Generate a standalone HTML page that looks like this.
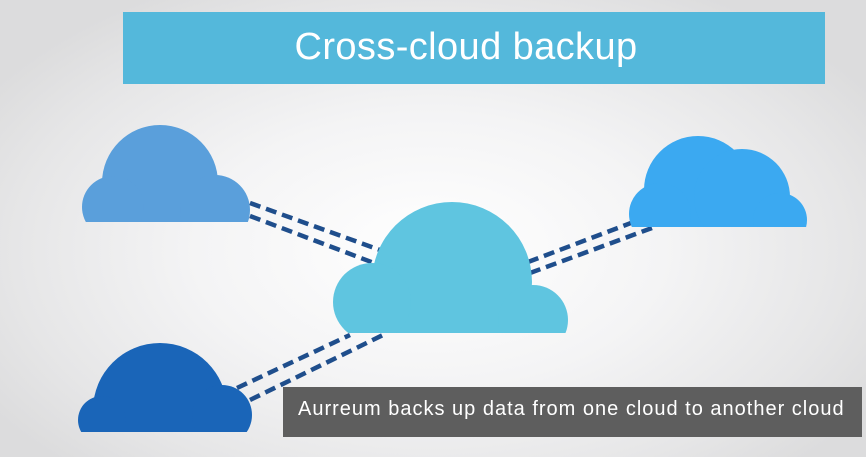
<!DOCTYPE html>
<html><head><style>
html,body{margin:0;padding:0;}
body{width:866px;height:457px;position:relative;overflow:hidden;
background:radial-gradient(ellipse 520px 300px at 430px 250px,#ffffff 0%,#f4f4f5 45%,#e6e6e7 80%,#dcdcdd 100%);
font-family:"Liberation Sans",sans-serif;}
.title{position:absolute;left:123px;top:12px;width:702px;height:72px;background:#54b8db;color:#fff;font-size:38px;letter-spacing:0.4px;text-align:center;line-height:70px;padding-right:16px;box-sizing:border-box;}
.cap{position:absolute;left:283px;top:387px;width:579px;height:50px;background:#5e5e5e;color:#fff;font-size:20px;letter-spacing:1px;line-height:44px;padding-left:15px;box-sizing:border-box;white-space:nowrap;}
svg{position:absolute;left:0;top:0;}
</style></head><body>
<svg width="866" height="457">
<defs>
<clipPath id="c1"><rect x="0" y="0" width="866" height="222"/></clipPath>
<clipPath id="c2"><rect x="0" y="0" width="866" height="333"/></clipPath>
<clipPath id="c3"><rect x="0" y="0" width="866" height="432"/></clipPath>
<clipPath id="c4"><rect x="0" y="0" width="866" height="227"/></clipPath>
</defs>
<g stroke="#1f4e8c" stroke-width="4.5" stroke-dasharray="11 6" fill="none">
<line x1="250" y1="203" x2="380" y2="250"/>
<line x1="250" y1="216" x2="374" y2="263"/>
<line x1="237" y1="388" x2="350" y2="335"/>
<line x1="250" y1="400" x2="385" y2="334"/>
<line x1="528" y1="262" x2="652" y2="215"/>
<line x1="530" y1="273" x2="652" y2="228"/>
</g>
<g fill="#5a9fdb" clip-path="url(#c1)">
<circle cx="160" cy="183" r="58"/><circle cx="113" cy="207" r="31"/><circle cx="215" cy="210" r="35"/>
</g>
<g fill="#5fc5e0" clip-path="url(#c2)">
<circle cx="452" cy="282" r="80"/><circle cx="372" cy="302" r="39"/><circle cx="533" cy="320" r="35"/>
</g>
<g fill="#1a65b8" clip-path="url(#c3)">
<circle cx="160" cy="410" r="67"/><circle cx="102" cy="420" r="24"/><circle cx="222" cy="415" r="30"/>
</g>
<g fill="#3ba9f1" clip-path="url(#c4)">
<circle cx="698" cy="190" r="54"/><circle cx="742" cy="197" r="48"/><circle cx="660" cy="214" r="31"/><circle cx="780" cy="220" r="27"/>
</g>
</svg>
<div class="title">Cross-cloud backup</div>
<div class="cap">Aurreum backs up data from one cloud to another cloud</div>
</body></html>
